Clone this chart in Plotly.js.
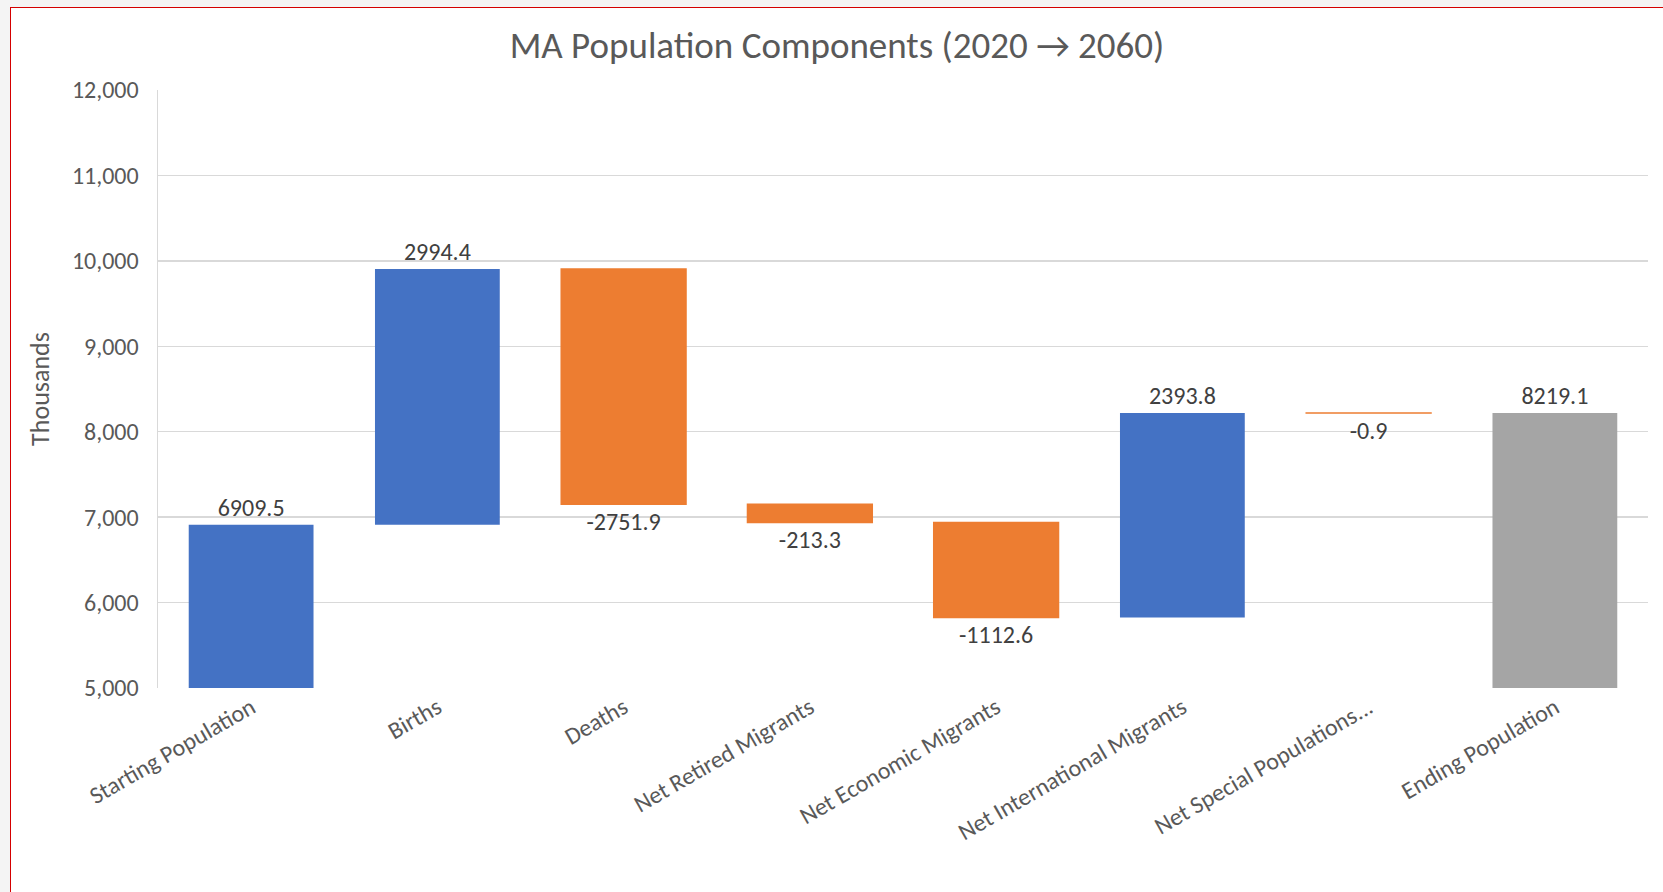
<!DOCTYPE html>
<html>
<head>
<meta charset="utf-8">
<script src="https://cdn.plot.ly/plotly-3.0.1.min.js"></script>
<style>
  html, body { margin: 0; padding: 0; background: #f4f4f4; }
  #wrap { position: absolute; left: 10px; top: 7px; width: 1652px; height: 884px;
          border-left: 1px solid #d40000; border-top: 1px solid #d40000; background: #fff; }
  #chart { width: 1652px; height: 884px; }
</style>
</head>
<body>
<div id="wrap"><div id="chart"></div></div>
<script>
// Data
const categories = ["Starting Population", "Births", "Deaths", "Net Retired Migrants",
  "Net Economic Migrants", "Net International Migrants", "Net Special Populations...", "Ending Population"];
const values = [6909.5, 2994.4, -2751.9, -213.3, -1112.6, 2393.8, -0.9, 8219.1];
const measures = ["relative", "relative", "relative", "relative", "relative", "relative", "relative", "total"];
const yTickVals = [5000, 6000, 7000, 8000, 9000, 10000, 11000, 12000];
const yTickText = ["5,000", "6,000", "7,000", "8,000", "9,000", "10,000", "11,000", "12,000"];

const FONT = "Calibri, Carlito, Lato, sans-serif";

const trace = {
  type: "waterfall",
  x: categories,
  y: values,
  measure: measures,
  text: values.map(v => v.toFixed(1)),
  textinfo: "text",
  textposition: "outside",
  cliponaxis: false,
  textfont: { family: FONT, size: 24, color: "#404040" },
  increasing: { marker: { color: "#4472C4" } },
  decreasing: { marker: { color: "#ED7D31", line: { color: "#ED7D31", width: 1.5 } } },
  totals: { marker: { color: "#A5A5A5" } },
  connector: { visible: false },
  hoverinfo: "x+y"
};

const layout = {
  width: 1652, height: 884,
  margin: { l: 147, r: 15, t: 82, b: 204 },
  paper_bgcolor: "#ffffff",
  plot_bgcolor: "#ffffff",
  showlegend: false,
  waterfallgap: 0.33,
  title: {
    text: "MA Population Components (2020 → 2060)",
    font: { family: FONT, size: 37, color: "#595959" },
    xref: "container", x: 0.5, xanchor: "center",
    yref: "container", y: 0.958, yanchor: "middle"
  },
  xaxis: {
    type: "category",
    tickangle: -30,
    tickfont: { family: FONT, size: 24, color: "#595959" },
    showgrid: false,
    showline: false,
    zeroline: false,
    ticks: ""
  },
  yaxis: {
    range: [5000, 12000],
    tickvals: yTickVals,
    ticktext: yTickText,
    tickfont: { family: FONT, size: 24, color: "#595959" },
    showgrid: true,
    gridcolor: "#d9d9d9",
    gridwidth: 1.5,
    showline: true,
    linecolor: "#d9d9d9",
    linewidth: 1.5,
    zeroline: false,
    ticks: "",
    ticklabelstandoff: 13,
    title: { text: "Thousands", font: { family: FONT, size: 26, color: "#595959" }, standoff: 15 }
  }
};

Plotly.newPlot("chart", [trace], layout, { displayModeBar: false, staticPlot: true });
</script>
</body>
</html>
